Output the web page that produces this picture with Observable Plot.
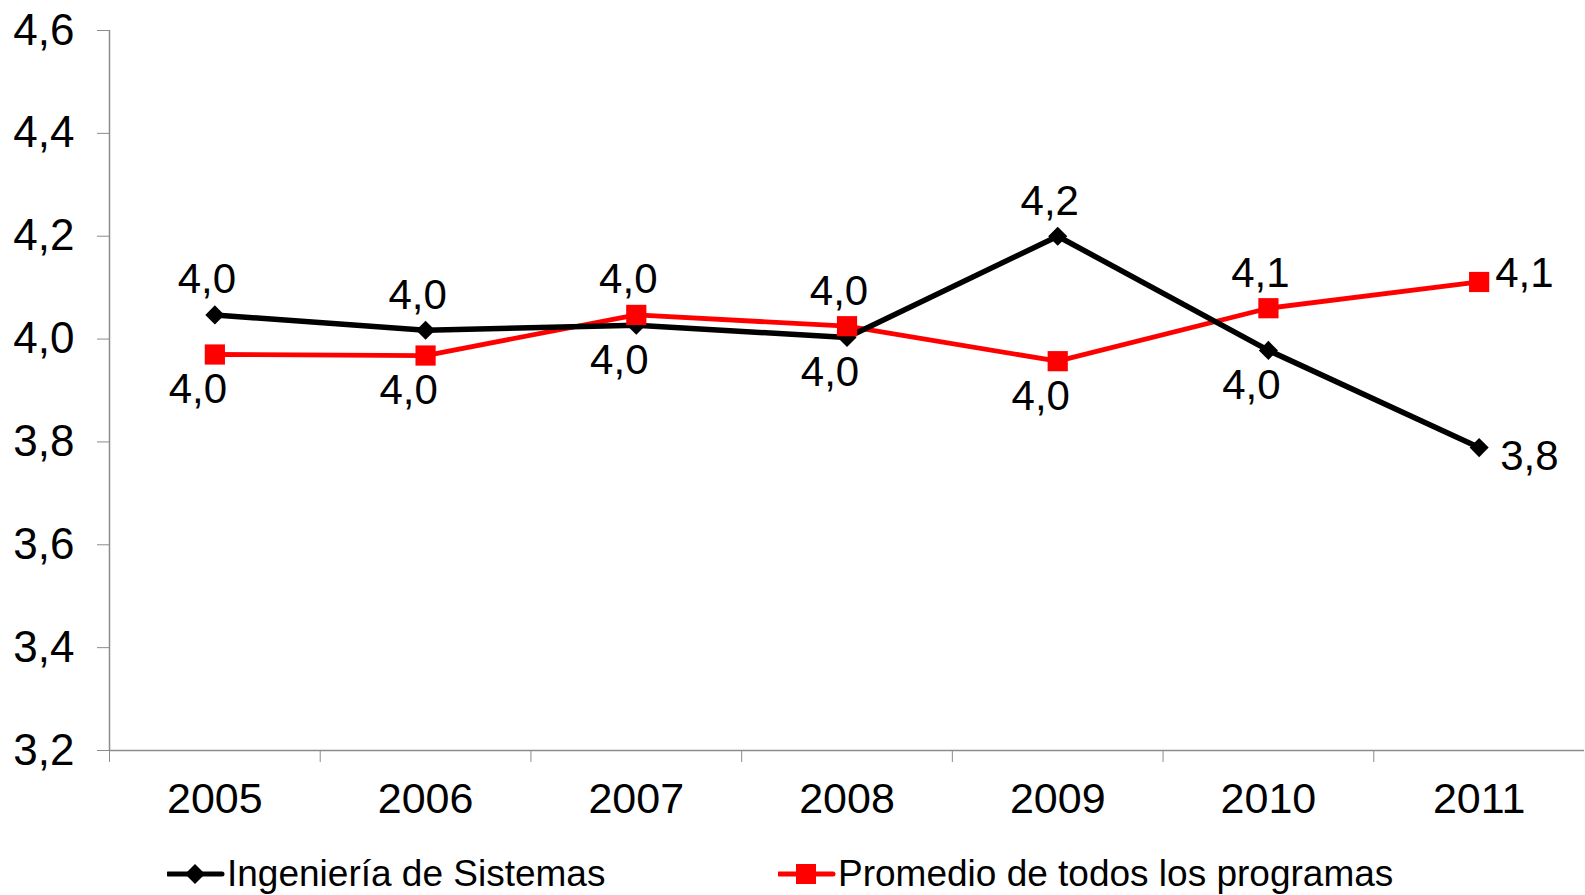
<!DOCTYPE html>
<html>
<head>
<meta charset="utf-8">
<script src="https://cdn.jsdelivr.net/npm/d3@7"></script>
<script src="https://cdn.jsdelivr.net/npm/@observablehq/plot@0.6"></script>
<style>
  html, body { margin: 0; padding: 0; background: #fff; }
  body { width: 1585px; height: 895px; overflow: hidden; font-family: "Liberation Sans", Arial, sans-serif; }
  #legend { position: relative; width: 1585px; height: 60px; font-size: 37px; color: #000; }
  .item { position: absolute; top: 19px; height: 40px; display: flex; align-items: center; line-height: 40px; white-space: nowrap; }
  .item svg { display: block; }
</style>
</head>
<body>
<div id="chart"></div>
<div id="legend"></div>
<script>
// ---- data ----
const years = [2005, 2006, 2007, 2008, 2009, 2010, 2011];
const ingenieria = [4.047, 4.017, 4.027, 4.003, 4.200, 3.978, 3.789];
const promedio = [3.970, 3.968, 4.047, 4.025, 3.957, 4.060, 4.111];
const seriesNames = ["Ingeniería de Sistemas", "Promedio de todos los programas"];
const seriesColors = ["#000000", "#ff0000"];
const yTicks = [3.2, 3.4, 3.6, 3.8, 4.0, 4.2, 4.4, 4.6];

// ---- tables ----
const rows = [];
years.forEach((yr, i) => {
  rows.push({year: yr, value: ingenieria[i], series: seriesNames[0]});
  rows.push({year: yr, value: promedio[i], series: seriesNames[1]});
});
const lastYear = years[years.length - 1];
const labels = rows.map(d => {
  const other = rows.find(o => o.year === d.year && o.series !== d.series);
  const higher = d.value >= other.value;
  return {...d, pos: d.year === lastYear ? (higher ? "rightUp" : "rightDown") : (higher ? "above" : "below")};
});
const fmt = v => v.toFixed(1).replace(".", ",");
const boundaries = years.map(y => y - 0.5);
const gray = "#8c8c8c";
const FONT = "'Liberation Sans', Arial, sans-serif";
const LBL = 42;

const chart = Plot.plot({
  width: 1585,
  height: 835,
  marginLeft: 109,
  marginRight: 1,
  marginTop: 30,
  marginBottom: 85,
  style: {fontFamily: FONT, fontSize: "43px", color: "#000", background: "#fff", overflow: "visible"},
  x: {type: "linear", domain: [years[0] - 0.5, lastYear + 0.5], label: null},
  y: {domain: [yTicks[0], yTicks[yTicks.length - 1]], label: null},
  color: {domain: seriesNames, range: seriesColors},
  marks: [
    Plot.axisY({ticks: yTicks, tickFormat: fmt, tickSize: 12, tickPadding: 23, stroke: gray, fill: "#000", fontSize: 44, label: null}),
    Plot.axisX({ticks: years, tickFormat: d => String(d), tickSize: 0, tickPadding: 32, fill: "#000", fontSize: 43, label: null}),
    Plot.axisX({ticks: boundaries, tickFormat: () => "", tickSize: 12, stroke: gray, label: null}),
    Plot.ruleX([years[0] - 0.5], {stroke: gray, strokeWidth: 1.5}),
    Plot.ruleY([yTicks[0]], {stroke: gray, strokeWidth: 1.5}),
    Plot.line(rows.filter(d => d.series === seriesNames[1]), {x: "year", y: "value", stroke: seriesColors[1], strokeWidth: 4.8}),
    Plot.line(rows.filter(d => d.series === seriesNames[0]), {x: "year", y: "value", stroke: seriesColors[0], strokeWidth: 5.5}),
    Plot.dot(rows.filter(d => d.series === seriesNames[0]), {x: "year", y: "value", symbol: "diamond2", r: 8.6, fill: seriesColors[0], stroke: "none"}),
    Plot.dot(rows.filter(d => d.series === seriesNames[1]), {x: "year", y: "value", symbol: "square", r: 11.4, fill: seriesColors[1], stroke: "none"}),
    Plot.text(labels.filter(d => d.pos === "above"), {x: "year", y: "value", text: d => fmt(d.value), dx: -8, dy: -35, fontSize: LBL, fill: "#000"}),
    Plot.text(labels.filter(d => d.pos === "below"), {x: "year", y: "value", text: d => fmt(d.value), dx: -17, dy: 35, fontSize: LBL, fill: "#000"}),
    Plot.text(labels.filter(d => d.pos === "rightUp"), {x: "year", y: "value", text: d => fmt(d.value), dx: 16, dy: -8, textAnchor: "start", fontSize: LBL, fill: "#000"}),
    Plot.text(labels.filter(d => d.pos === "rightDown"), {x: "year", y: "value", text: d => fmt(d.value), dx: 21, dy: 9, textAnchor: "start", fontSize: LBL, fill: "#000"})
  ]
});
document.getElementById("chart").appendChild(chart);

// ---- legend ----
const legend = document.getElementById("legend");
const legendLeft = [167, 778];
const symbolsSvg = [
  c => `<path d="M28,9 L38,19 L28,29 L18,19 Z" fill="${c}"/>`,
  c => `<rect x="18" y="9" width="20" height="20" fill="${c}"/>`
];
seriesNames.forEach((name, i) => {
  const item = document.createElement("div");
  item.className = "item";
  item.style.left = legendLeft[i] + "px";
  item.innerHTML = `<svg width="58" height="38"><line x1="1" y1="19" x2="55" y2="19" stroke="${seriesColors[i]}" stroke-width="5" stroke-linecap="round"/>${symbolsSvg[i](seriesColors[i])}</svg><span style="margin-left:2px">${name}</span>`;
  legend.appendChild(item);
});
</script>
</body>
</html>
